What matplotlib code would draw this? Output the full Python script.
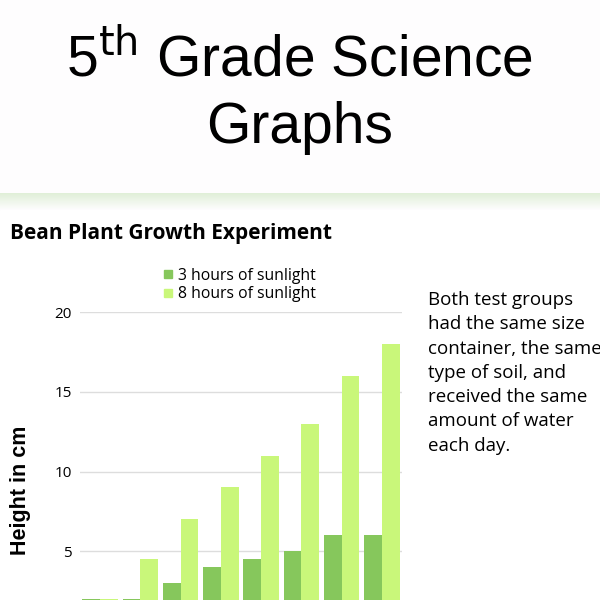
import matplotlib.pyplot as plt
import numpy as np
from matplotlib.lines import Line2D
from matplotlib.colors import LinearSegmentedColormap

days = ["1", "2", "3", "4", "5", "6", "7", "8"]
sun_3h = [2, 2, 3, 4, 4.5, 5, 6, 6]
sun_8h = [2, 4.5, 7, 9, 11, 13, 16, 18]
yticks = [5, 10, 15, 20]

dark = "#86c75c"
light = "#c9f77a"

fig = plt.figure(figsize=(6, 6), dpi=100)
fig.patch.set_facecolor("#fefdfe")

# top slide title
fig.text(0.5, 0.872, "5$^{\\mathrm{th}}$ Grade Science", ha="center", va="baseline",
         fontsize=41, family="Liberation Sans")
fig.text(0.5, 0.762, "Graphs", ha="center", va="baseline",
         fontsize=41, family="Liberation Sans")

# lower panel (white) with green shade along its top edge
panel = fig.add_axes([0, 0, 1, 0.65])
panel.set_axis_off()
panel.add_patch(plt.Rectangle((0, 0), 1, 1, color="white", transform=panel.transAxes))
shade = fig.add_axes([0, 0.65, 1, 0.028])
shade.set_axis_off()
grad = np.linspace(0, 1, 50).reshape(-1, 1)
shade.imshow(grad, aspect="auto", extent=[0, 1, 0, 1],
             cmap=LinearSegmentedColormap.from_list("g", ["#e0efd8", "#fefdfe"]))

fig.text(0.017, 0.602, "Bean Plant Growth Experiment", fontsize=15, fontweight="bold",
         family="Open Sans", va="baseline")

ax = fig.add_axes([80 / 600, -31 / 600, 322 / 600, 319 / 600])
ax.set_facecolor("none")
x = np.arange(len(days))
w = 0.44
ax.bar(x - w / 2, sun_3h, w, color=dark, label="3 hours of sunlight", zorder=2)
ax.bar(x + w / 2, sun_8h, w, color=light, label="8 hours of sunlight", zorder=2)
ax.set_xlim(-0.5, len(days) - 0.5)
ax.set_ylim(0, 20)
ax.set_yticks(yticks)
ax.set_yticklabels([str(t) for t in yticks], fontsize=11, family="Open Sans")
ax.set_xticks([])
ax.yaxis.grid(True, color="#dddddd", linewidth=1, zorder=0)
ax.tick_params(axis="y", length=0, pad=6)
for s in ax.spines.values():
    s.set_visible(False)

fig.text(0.034, 0.183, "Height in cm", rotation=90, fontsize=15.5, fontweight="bold",
         family="Liberation Sans", ha="center", va="center")

handles = [Line2D([], [], marker="s", linestyle="", color=dark, markersize=6),
           Line2D([], [], marker="s", linestyle="", color=light, markersize=6)]
fig.legend(handles, ["3 hours of sunlight", "8 hours of sunlight"],
           loc="upper left", bbox_to_anchor=(0.243, 0.577), frameon=False,
           handletextpad=0.15, handlelength=1, labelspacing=0.15,
           prop={"family": "Open Sans", "size": 11.3})

note = ("Both test groups\nhad the same size\ncontainer, the same\ntype of soil, and\n"
        "received the same\namount of water\neach day.")
fig.text(0.713, 0.515, note, fontsize=13.5, family="Open Sans", va="top",
         linespacing=1.45)

fig.savefig("out.png", dpi=100, facecolor=fig.get_facecolor())
